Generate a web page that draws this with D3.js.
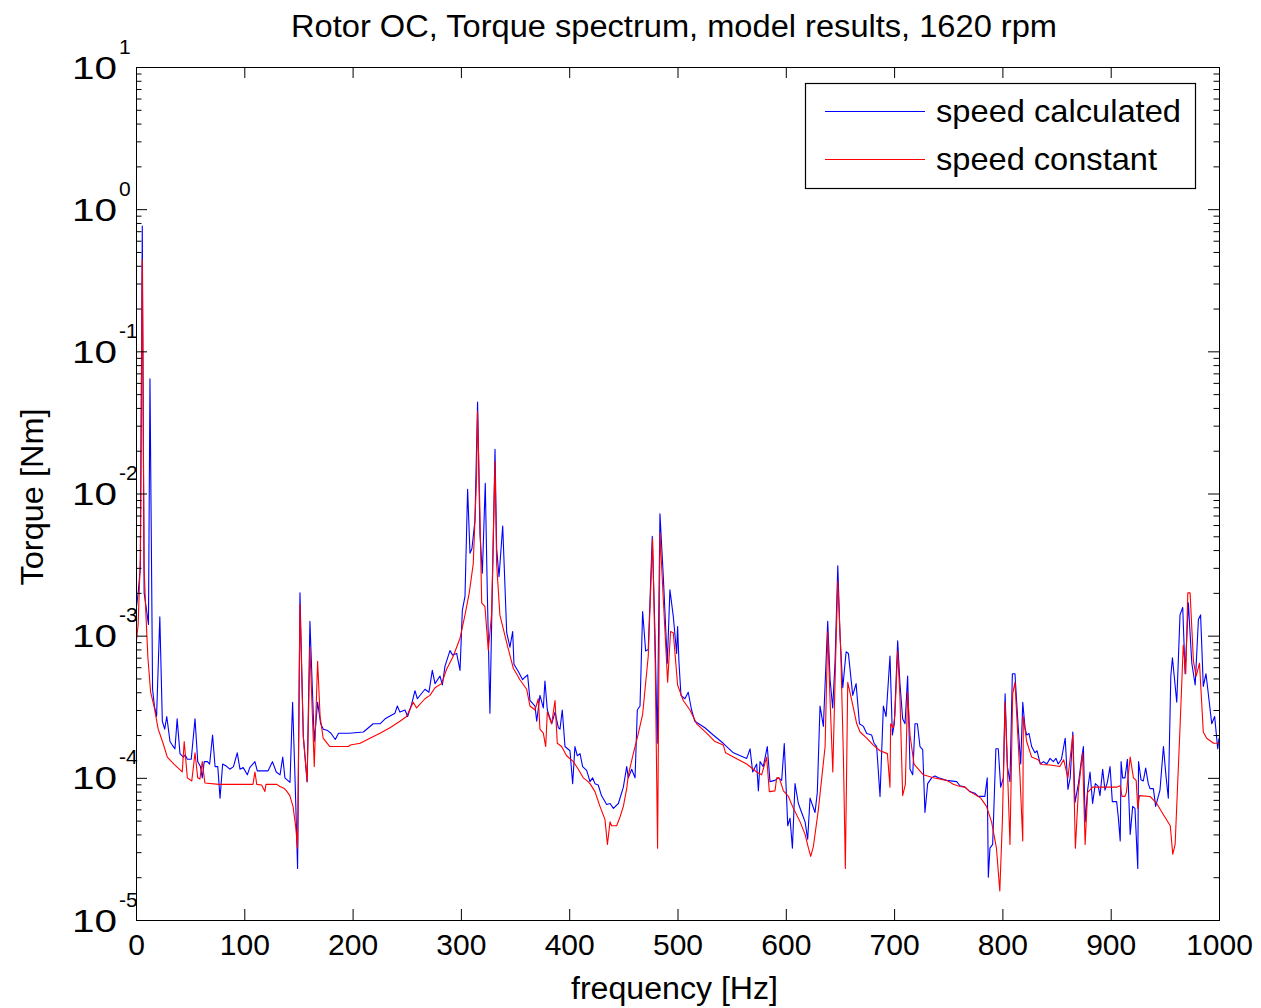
<!DOCTYPE html>
<html>
<head>
<meta charset="utf-8">
<script src="https://cdn.jsdelivr.net/npm/d3@7"></script>
<style>
  html, body { margin: 0; padding: 0; background: #fff; }
  svg { display: block; font-family: "Liberation Sans", Arial, sans-serif; }
</style>
</head>
<body>
<svg id="chart" width="1261" height="1008"></svg>
<script>
// ---------------- data ----------------
const titleText = "Rotor OC, Torque spectrum, model results, 1620 rpm";
const xLabelText = "frequency [Hz]";
const yLabelText = "Torque [Nm]";
const seriesNames = ["speed calculated", "speed constant"];
const xTicks = [0, 100, 200, 300, 400, 500, 600, 700, 800, 900, 1000];
const yExponents = [1, 0, -1, -2, -3, -4, -5];

const freqCalc = [0,2,4,5.8,7.5,9.8,11.5,12.9,15.3,17,19,22,24.3,26.5,28.4,31.4,33.5,36,38,40.6,43.7,45.5,47.4,51,54.5,57,59.5,61.2,63,66,68,70.7,73,75.5,77.6,80,84,86.6,90,93.5,96,99,102.8,105,109.8,112,122,126,129.5,133,135.5,137.5,142.2,144.6,147,149.2,151.4,154.5,158,160.6,164.6,167.7,170.5,173,177,180,184,187,197,210,219,225.3,230,239.1,241.3,243.7,248.4,250.8,254.5,257.6,259.8,266.8,270.5,273.6,276.1,280.7,282.9,285.3,289.9,292.4,296.1,299.2,301.3,303.8,306.2,308.4,310.2,313,315.4,317.6,319.8,322.5,324.4,326.8,331.5,333,335.2,338.6,342.3,345.3,347.8,349,353,357,359.2,361.6,363.8,368.4,370,373,376.1,377.6,379.8,383.8,386.9,390,391.5,393.6,396.1,400.7,403.2,405.3,407.5,410,412.4,416.1,419.2,421.6,423.8,426.8,429.8,434.6,437.7,440.8,445.4,450,453.1,454.6,457.7,460.8,462.9,465.4,467.8,470.6,473,476.7,479.2,481.3,483.8,486.9,490.6,493,496.1,499.2,500.1,501.3,503.2,506.8,509.9,513,516,525.3,533,542.2,551.6,563.9,567,569.4,573.1,574.7,576.2,579.2,582.9,585.4,590,593.1,596.2,598.6,601.8,603.9,606.1,608.5,611.6,614.6,617.8,620.2,622.4,627,629.1,631.6,634.7,638.7,640.9,643.3,645.5,648,650.1,652.6,655.7,657.8,661.8,664.9,668,671.7,674.7,679.3,681.5,683.9,687,690.1,692.6,696.2,698.4,700.2,703.3,705.4,707.9,710.1,712.5,714.7,717.2,719.3,721.5,723.9,726.4,728.5,731,734.7,737.8,740.9,748.5,757.8,760.8,765.4,770,774.6,777.7,783.8,786,787,788.5,791,794,796.2,798.4,800.9,802.5,804.6,807,809.2,811.6,814.7,816.9,818.8,820.9,822.4,824.6,827,830,832,835,838,841,844,847,849.5,851.5,854.5,858,860.5,862.6,865,867,870.2,873.3,874.8,876.4,878.7,880.9,883.3,885.8,888.5,890.1,892.6,894.7,896.9,899.4,901.5,905.5,907,908.8,909.6,911,913.2,915.4,918,920.3,922.4,925,925.7,928,930.1,932.3,934.7,936.3,939.4,941.5,945.5,948.7,951,953.2,955.5,957,961,964,966.5,968.7,971.7,974.9,978,981,983,985.5,988,993.3,996,998.8,1000];
const torqueCalc = [1.5e-3,2.0e-3,3.0e-3,0.76,2.0e-3,1.5e-3,1.2e-3,0.064,4.2e-4,3.2e-4,2.7e-4,1.36e-3,2.5e-4,2.2e-4,2.7e-4,1.8e-4,1.7e-4,1.6e-4,2.6e-4,1.48e-4,1.4e-4,1.45e-4,1.35e-4,1.35e-4,2.6e-4,1.3e-4,1.2e-4,1.0e-4,1.3e-4,1.3e-4,1.25e-4,2.0e-4,1.2e-4,1.2e-4,7.2e-5,1.25e-4,1.2e-4,1.15e-4,1.2e-4,1.5e-4,1.15e-4,1.18e-4,1.05e-4,1.18e-4,1.3e-4,1.12e-4,1.12e-4,1.3e-4,1.1e-4,1.05e-4,1.4e-4,1.0e-4,9.3e-5,3.4e-4,9.0e-5,2.3e-5,2.0e-3,1.95e-4,9.4e-5,1.26e-3,1.8e-4,3.4e-4,2.4e-4,2.2e-4,2.15e-4,2.06e-4,1.86e-4,2.06e-4,2.06e-4,2.1e-4,2.4e-4,2.4e-4,2.6e-4,2.85e-4,3.2e-4,2.9e-4,3.0e-4,2.7e-4,3.3e-4,4.1e-4,3.6e-4,4.2e-4,4.0e-4,5.7e-4,4.6e-4,5.2e-4,4.5e-4,6.1e-4,7.85e-4,7.3e-4,7.5e-4,5.7e-4,1.5e-3,1.9e-3,0.0107,3.8e-3,4.1e-3,6.5e-3,0.044,5.2e-3,2.75e-3,0.0118,2.0e-3,2.85e-4,0.0205,4.1e-3,2.6e-3,5.9e-3,1.05e-3,8.3e-4,1.07e-3,6.3e-4,5.6e-4,4.9e-4,5.1e-4,5.3e-4,3.5e-4,3.2e-4,2.5e-4,3.8e-4,3.1e-4,4.8e-4,3.0e-4,2.4e-4,2.9e-4,2.25e-4,2.2e-4,3.0e-4,1.66e-4,1.55e-4,9.1e-5,1.66e-4,1.43e-4,1.48e-4,1.2e-4,1.13e-4,9.4e-5,1.0e-4,9.1e-5,8.9e-5,7.5e-5,6.5e-5,6.6e-5,6.1e-5,6.6e-5,8.6e-5,1.2e-4,1.0e-4,1.15e-4,1.0e-4,3.0e-4,3.2e-4,1.48e-3,7.8e-4,8.0e-4,5.0e-3,1.05e-3,1.75e-4,7.2e-3,2.6e-3,6.4e-4,2.1e-3,1.37e-3,7.5e-4,1.16e-3,6.6e-4,3.8e-4,3.6e-4,4.0e-4,3.0e-4,2.5e-4,2.25e-4,2.0e-4,1.75e-4,1.5e-4,1.37e-4,1.6e-4,1.1e-4,1.25e-4,8.1e-5,1.3e-4,1.2e-4,1.66e-4,9.4e-5,9.6e-5,1.0e-4,9.6e-5,1.74e-4,4.6e-5,5.2e-5,3.2e-5,9.1e-5,6.6e-5,5.7e-5,4.9e-5,3.7e-5,7.2e-5,5.7e-5,7.9e-5,3.2e-4,2.3e-4,1.26e-3,4.9e-4,3.1e-4,6.6e-4,3.1e-3,1.0e-3,4.3e-4,7.7e-4,7.5e-4,3.8e-4,4.6e-4,2.4e-4,2.3e-4,2.05e-4,2.0e-4,1.75e-4,1.66e-4,7.4e-5,3.2e-4,2.7e-4,7.2e-4,2.0e-4,2.4e-4,9.2e-4,4.6e-4,2.6e-4,2.4e-4,5.2e-4,1.15e-4,1.05e-4,2.4e-4,2.4e-4,1.66e-4,1.58e-4,5.7e-5,9.1e-5,1.0e-4,1.03e-4,1.0e-4,9.6e-5,9.4e-5,8.8e-5,8.6e-5,8.0e-5,7.8e-5,7.4e-5,7.4e-5,1.0e-4,2.0e-5,3.2e-5,3.4e-5,1.6e-4,1.6e-4,8.6e-5,1.0e-4,3.9e-4,1.2e-4,9.4e-5,5.4e-4,5.4e-4,2.2e-4,1.25e-4,3.4e-4,2.25e-4,2.0e-4,2.05e-4,1.66e-4,1.5e-4,1.55e-4,1.25e-4,1.3e-4,1.25e-4,1.37e-4,1.3e-4,1.37e-4,1.25e-4,1.35e-4,1.9e-4,8.3e-5,1.0e-4,2.1e-4,6.7e-5,9.1e-5,1.4e-4,1.66e-4,4.9e-5,8.2e-5,1.1e-4,6.6e-5,9.1e-5,8.7e-5,7.5e-5,1.15e-4,8.2e-5,9.3e-5,1.2e-4,6.8e-5,6.8e-5,5.3e-5,3.6e-5,1.3e-4,1.0e-4,1.0e-4,1.35e-4,4.0e-5,6.3e-5,6.1e-5,2.3e-5,1.3e-4,9.7e-5,9.5e-5,1.17e-4,9.1e-5,8.4e-5,8.4e-5,6.3e-5,8.2e-5,1.66e-4,1.04e-4,7.2e-5,5.2e-4,7.0e-4,3.4e-4,1.4e-3,1.58e-3,5.4e-4,1.7e-3,6.4e-4,4.5e-4,1.3e-3,1.4e-3,4.4e-4,5.4e-4,2.4e-4,2.7e-4,1.6e-4,1.9e-4];

const freqConst = [0,2,4,5.8,7.5,9,11,13.5,16.6,20.5,25,28.9,35,42.7,44.5,47.4,51.5,54.5,57,59,61.2,63.6,76.6,108,109.8,111.5,116,119,120,130,133,137,139,142,145,147.5,149.2,151.4,154.5,158,160.6,164.6,167.7,170,172.8,179,196,198,207,216,225.3,234.5,243.7,249.8,256,259.1,266.8,271.4,276.1,282.2,286.8,293,299.2,303.8,307.7,311.4,314.4,315.4,317.6,319.2,322.2,325.3,328.3,331.5,333,336,342.3,348.4,354.5,360.7,363.8,368.4,371.5,373,376.1,378.3,379.8,383.8,386.9,389,393,397.6,403.8,408.4,413,416.1,419.2,423.8,428.4,433,435.3,437.7,439.2,443.8,446.9,450,453.1,454.6,459.2,463.8,467.8,473,477,479.5,481.6,483.8,486.9,490.9,493.6,496.1,500.1,505.3,511.5,517.7,526.9,534.6,542.3,544.4,551.6,563.9,573.1,577.7,582.3,584.8,590,591.6,594,597.8,602.4,607,613.2,617.8,620.9,623,625.5,630.1,636.3,638.7,640.9,643.4,645.8,648,650.7,653.2,655,657.2,660.9,665.5,668.6,674.7,680.8,687,693.8,696.2,696.8,699.3,700.8,703.3,705.4,707.9,710.4,712.5,714.7,718.4,727,736.2,748.5,754.7,760.8,765.4,770,776.2,780,785.3,790,794.5,797.6,800,802.5,804.6,807,809.5,811.6,816.2,818.8,819.3,822.4,827,833,836,844,853,856.6,860.5,865,867.4,870.2,874,876.4,878.7,883.3,905.5,908.8,910.4,913.2,914.5,918,921,923.5,925,926.6,936.3,942.5,948.7,955,957.3,959.5,964,967,969.3,971.2,973.3,976.4,978.9,982,985.5,988.6,995,1000];
const torqueConst = [8.6e-4,1.2e-3,3.5e-3,0.44,3e-3,1.5e-3,7e-4,4e-4,3.2e-4,2.2e-4,1.75e-4,1.4e-4,1.25e-4,1.1e-4,1.8e-4,1.0e-4,9.5e-5,1.5e-4,1.0e-4,9.8e-5,1.3e-4,9.2e-5,9.0e-5,9.0e-5,1.1e-4,9.0e-5,8.9e-5,8.0e-5,9.0e-5,9.0e-5,8.7e-5,8.4e-5,8.1e-5,7.5e-5,6.3e-5,4.5e-5,3.2e-5,1.66e-3,1.95e-4,9.4e-5,8.3e-4,1.2e-4,6.6e-4,2.7e-4,1.9e-4,1.66e-4,1.66e-4,1.7e-4,1.75e-4,1.9e-4,2.06e-4,2.25e-4,2.5e-4,2.7e-4,3.4e-4,3.1e-4,3.6e-4,3.8e-4,4.3e-4,4.6e-4,5.8e-4,7.2e-4,9.6e-4,1.4e-3,2.0e-3,3.2e-3,0.0125,0.0377,7.2e-3,1.7e-3,1.6e-3,7.9e-4,1.4e-3,0.0168,3.2e-3,1.4e-3,8.9e-4,5.9e-4,4.9e-4,4.2e-4,3.2e-4,3.0e-4,3.6e-4,2.2e-4,2.06e-4,1.66e-4,2.9e-4,2.4e-4,3.5e-4,1.75e-4,1.66e-4,1.43e-4,1.3e-4,1.15e-4,1.0e-4,9.6e-5,9.1e-5,8.0e-5,6.3e-5,5.1e-5,3.4e-5,4.9e-5,4.6e-5,4.6e-5,5.3e-5,6.3e-5,8.4e-5,1.05e-4,1.48e-4,2.05e-4,2.8e-4,7.2e-4,4.8e-3,6.0e-4,3.2e-5,5.3e-3,1.8e-3,4.7e-4,1.07e-3,1.05e-3,4.5e-4,3.5e-4,3.0e-4,2.4e-4,2.06e-4,1.8e-4,1.7e-4,1.5e-4,1.4e-4,1.25e-4,1.1e-4,1.05e-4,1.4e-4,8.0e-5,8.1e-5,1.0e-4,1.0e-4,8.1e-5,7.4e-5,6.1e-5,4.9e-5,4.0e-5,3.2e-5,2.8e-5,3.3e-5,6.0e-5,1.66e-4,1.07e-3,3.5e-4,1.1e-4,6.0e-4,2.4e-3,7.9e-4,1.4e-4,2.3e-5,4.7e-4,3.5e-4,2.4e-4,2.1e-4,1.9e-4,1.7e-4,1.55e-4,1.48e-4,8.6e-5,2.4e-4,2.25e-4,2.8e-4,7.8e-4,3.7e-4,7.5e-5,9.0e-5,4.0e-4,2.0e-4,1.25e-4,1.05e-4,1.0e-4,9.6e-5,9.0e-5,8.7e-5,8.6e-5,8.0e-5,7.5e-5,7.2e-5,6.3e-5,4.9e-5,3.2e-5,1.6e-5,5.0e-5,3.4e-4,1.2e-4,3.4e-5,3.9e-4,4.7e-4,1.04e-4,3.6e-5,2.7e-4,1.8e-4,1.4e-4,1.34e-4,1.24e-4,1.23e-4,1.2e-4,1.34e-4,1.0e-4,2.0e-4,3.2e-5,8.2e-5,1.5e-4,3.4e-5,7.9e-5,8.6e-5,8.6e-5,8.8e-5,7.4e-5,7.4e-5,7.9e-5,1.4e-4,1.0e-4,9.6e-5,6.1e-5,7.5e-5,7.4e-5,6.6e-5,5.5e-5,4.6e-5,2.9e-5,3.4e-5,2.25e-4,8.6e-4,5.4e-4,2.0e-3,2.0e-3,6.6e-4,5.2e-4,6.4e-4,2.1e-4,1.9e-4,1.75e-4,1.75e-4];

const seriesColors = ["#0000ff", "#ff0000"];

// ---------------- layout ----------------
const L = 136, R = 1219, T = 67, B = 920;
const svg = d3.select("#chart");

const x = d3.scaleLinear().domain([0, 1000]).range([L, R]);
const y = d3.scaleLog().domain([1e-5, 10]).range([B, T]);

const majorY = yExponents.map(e => Math.pow(10, e));
const minorY = [];
for (let e = -5; e < 1; e++) for (let m = 2; m <= 9; m++) minorY.push(m * Math.pow(10, e));

// clip
svg.append("defs").append("clipPath").attr("id", "plotclip")
  .append("rect").attr("x", L).attr("y", T).attr("width", R - L).attr("height", B - T);

// white plot background
svg.append("rect").attr("x", L).attr("y", T).attr("width", R - L).attr("height", B - T).attr("fill", "#fff");

// series
const seriesData = [
  freqCalc.map((f, i) => [f, torqueCalc[i]]),
  freqConst.map((f, i) => [f, torqueConst[i]])
];
const line = d3.line().x(d => x(d[0])).y(d => y(d[1]));
const plot = svg.append("g").attr("clip-path", "url(#plotclip)");
seriesData.forEach((data, i) => {
  plot.append("path").datum(data)
    .attr("d", line)
    .attr("fill", "none")
    .attr("stroke", seriesColors[i])
    .attr("stroke-width", 1.1)
    .attr("stroke-linejoin", "round");
});

// axes
function styleAxis(g) {
  g.selectAll("path.domain").attr("stroke", "#000").attr("stroke-width", 1);
  g.selectAll(".tick line").attr("stroke", "#000").attr("stroke-width", 1);
}

const xb = svg.append("g").attr("transform", `translate(0,${B})`)
  .call(d3.axisBottom(x).tickValues(xTicks).tickSizeInner(-11).tickSizeOuter(0).tickPadding(14).tickFormat(d3.format("d")));
xb.call(styleAxis);
xb.selectAll("text").attr("font-size", 30).attr("fill", "#000")
  .attr("font-family", "'Liberation Sans', Arial, sans-serif");

const xt = svg.append("g").attr("transform", `translate(0,${T})`)
  .call(d3.axisTop(x).tickValues(xTicks).tickSizeInner(-11).tickSizeOuter(0).tickFormat(""));
xt.call(styleAxis);

const yl = svg.append("g").attr("transform", `translate(${L},0)`)
  .call(d3.axisLeft(y).tickValues(majorY).tickSizeInner(-11).tickSizeOuter(0).tickPadding(18).tickFormat(""));
yl.call(styleAxis);
const ylm = svg.append("g").attr("transform", `translate(${L},0)`)
  .call(d3.axisLeft(y).tickValues(minorY).tickSizeInner(-5.5).tickSizeOuter(0).tickFormat(""));
ylm.call(styleAxis);
const yr = svg.append("g").attr("transform", `translate(${R},0)`)
  .call(d3.axisRight(y).tickValues(majorY).tickSizeInner(-11).tickSizeOuter(0).tickFormat(""));
yr.call(styleAxis);
const yrm = svg.append("g").attr("transform", `translate(${R},0)`)
  .call(d3.axisRight(y).tickValues(minorY).tickSizeInner(-5.5).tickSizeOuter(0).tickFormat(""));
yrm.call(styleAxis);

// y tick labels 10^n built on the left axis ticks
yl.selectAll(".tick").each(function(d) {
  const g = d3.select(this);
  g.select("text").remove();
  const e = Math.round(Math.log10(d));
  const t = g.append("text")
    .attr("x", -64).attr("y", 11)
    .attr("text-anchor", "start")
    .attr("fill", "#000")
    .attr("font-family", "'Liberation Sans', Arial, sans-serif");
  t.append("tspan").attr("font-size", 32).attr("textLength", 45).attr("lengthAdjust", "spacingAndGlyphs").text("10");
  t.append("tspan").attr("font-size", 21).attr("x", -17).attr("dy", -25).text(String(e).replace("-", "-"));
});

// frame
svg.append("rect").attr("x", L + 0.5).attr("y", T + 0.5).attr("width", R - L).attr("height", B - T)
  .attr("fill", "none").attr("stroke", "#000").attr("stroke-width", 1);

// title & labels
svg.append("text").attr("x", (291 + 1057) / 2).attr("y", 37).attr("text-anchor", "middle")
  .attr("font-size", 31).attr("textLength", 766).attr("lengthAdjust", "spacingAndGlyphs").text(titleText);
svg.append("text").attr("x", (571 + 778) / 2).attr("y", 999).attr("text-anchor", "middle")
  .attr("font-size", 31).attr("textLength", 207).attr("lengthAdjust", "spacingAndGlyphs").text(xLabelText);
svg.append("text").attr("transform", "translate(43,497) rotate(-90)").attr("text-anchor", "middle")
  .attr("font-size", 31).attr("textLength", 177).attr("lengthAdjust", "spacingAndGlyphs").text(yLabelText);

// legend
const lg = svg.append("g");
lg.append("rect").attr("x", 805.5).attr("y", 83.5).attr("width", 390).attr("height", 105)
  .attr("fill", "#fff").attr("stroke", "#000").attr("stroke-width", 1.2);
const legendW = [245, 221];
seriesNames.forEach((name, i) => {
  const yy = 111.5 + i * 48;
  lg.append("line").attr("x1", 825).attr("x2", 925).attr("y1", yy).attr("y2", yy)
    .attr("stroke", seriesColors[i]).attr("stroke-width", 1.1);
  lg.append("text").attr("x", 936).attr("y", yy + 10.5).attr("font-size", 32)
    .attr("textLength", legendW[i]).attr("lengthAdjust", "spacingAndGlyphs").text(name);
});
</script>
</body>
</html>
